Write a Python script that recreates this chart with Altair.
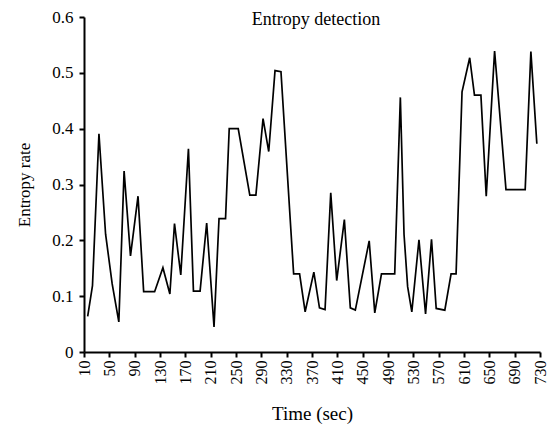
import altair as alt
import pandas as pd

time_sec = [15.8, 23.4, 33.6, 44.1, 54.5, 65.0, 73.3, 83.4, 95.3, 104.2,
            112.9, 121.5, 134.6, 145.6, 152.9, 162.8, 174.9, 182.8, 193.3, 203.7,
            215.3, 223.2, 233.5, 239.3, 253.5, 271.8, 281.4, 292.7, 301.7, 311.6,
            321.0, 341.0, 350.4, 359.2, 372.9, 381.8, 390.6, 399.6, 409.0, 421.1,
            430.5, 438.4, 460.3, 469.1, 479.7, 500.6, 509.5, 515.3, 521.0, 527.6,
            538.9, 549.3, 558.7, 566.1, 579.7, 589.6, 597.5, 606.9, 619.0, 626.5,
            636.7, 645.1, 658.3, 676.3, 706.6, 715.6, 725.0]
entropy_rate = [0.064, 0.119, 0.391, 0.211, 0.122, 0.054, 0.324, 0.172, 0.279, 0.108,
                0.108, 0.108, 0.151, 0.104, 0.230, 0.138, 0.364, 0.109, 0.109, 0.231,
                0.045, 0.239, 0.239, 0.400, 0.400, 0.281, 0.281, 0.418, 0.359, 0.504,
                0.502, 0.140, 0.140, 0.072, 0.143, 0.079, 0.076, 0.285, 0.128, 0.237,
                0.079, 0.075, 0.199, 0.070, 0.140, 0.140, 0.456, 0.211, 0.117, 0.072,
                0.201, 0.068, 0.202, 0.078, 0.075, 0.140, 0.140, 0.466, 0.527, 0.460,
                0.460, 0.279, 0.539, 0.291, 0.291, 0.538, 0.373]
x_ticks = [10, 50, 90, 130, 170, 210, 250, 290, 330, 370, 410, 450, 490,
           530, 570, 610, 650, 690, 730]
y_ticks = [0, 0.1, 0.2, 0.3, 0.4, 0.5, 0.6]

df = pd.DataFrame({"t": time_sec, "v": entropy_rate})

FONT = "Liberation Serif"

chart = alt.Chart(df).mark_line(color="black", strokeWidth=1.7, clip=False).encode(
    x=alt.X("t:Q",
            scale=alt.Scale(domain=[10, 730], nice=False, zero=False),
            axis=alt.Axis(values=x_ticks, title="Time (sec)", labelAngle=270,
                          labelAlign="right", labelBaseline="middle",
                          labelFontSize=16, titleFontSize=19,
                          labelPadding=3, titlePadding=20)),
    y=alt.Y("v:Q",
            scale=alt.Scale(domain=[0, 0.6], nice=False),
            axis=alt.Axis(values=y_ticks, format=".1~f", title="Entropy rate",
                          labelFontSize=17, titleFontSize=17,
                          labelPadding=6, titlePadding=18)),
).properties(
    width=456,
    height=335,
    title=alt.TitleParams("Entropy detection", anchor="middle", baseline="top",
                          offset=0, dx=4, dy=21, fontSize=18, font=FONT,
                          fontWeight="normal", color="black"),
    autosize=alt.AutoSizeParams(type="none"),
    padding={"left": 76, "top": 9, "right": 7, "bottom": 73},
).configure_view(
    stroke=None
).configure_axis(
    grid=False,
    domainColor="black",
    domainWidth=2,
    tickColor="black",
    tickWidth=2,
    tickSize=5,
    labelFont=FONT,
    labelColor="black",
    titleFont=FONT,
    titleFontWeight="normal",
    titleColor="black",
    labelFlush=False,
    labelOverlap=False,
)

chart.save("out.html", embed_options={"renderer": "svg", "actions": False})
